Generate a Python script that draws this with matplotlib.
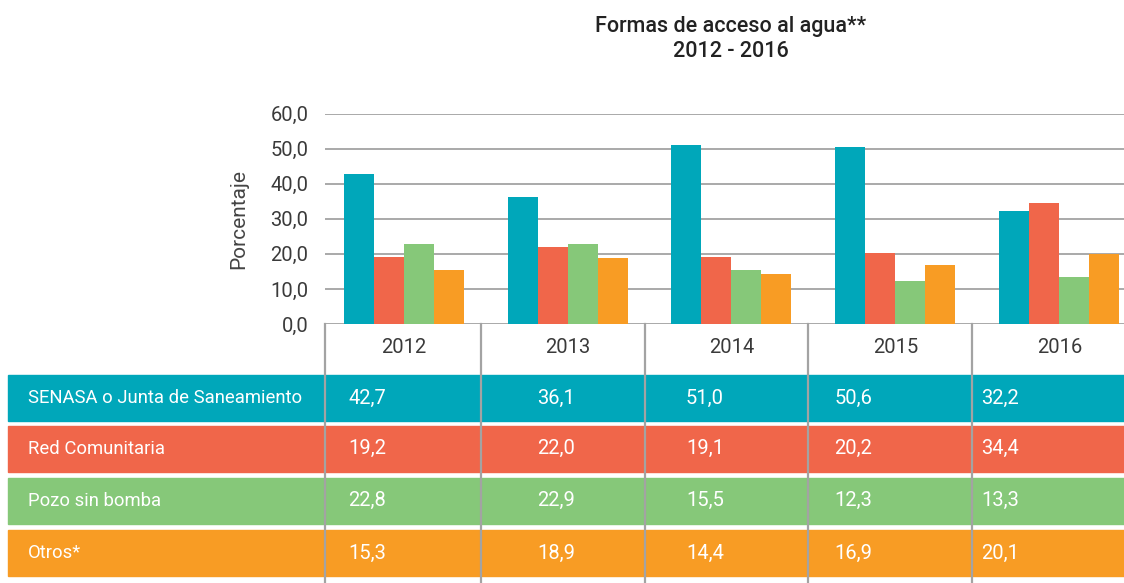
import matplotlib.pyplot as plt
from matplotlib.patches import Rectangle
from matplotlib.ticker import FuncFormatter

plt.rcParams['font.family'] = ['Roboto', 'DejaVu Sans']

# data
years = ["2012", "2013", "2014", "2015", "2016"]
series = ["SENASA o Junta de Saneamiento", "Red Comunitaria", "Pozo sin bomba", "Otros*"]
senasa = [42.7, 36.1, 51.0, 50.6, 32.2]
red_comunitaria = [19.2, 22.0, 19.1, 20.2, 34.4]
pozo = [22.8, 22.9, 15.5, 12.3, 13.3]
otros = [15.3, 18.9, 14.4, 16.9, 20.1]
values = [senasa, red_comunitaria, pozo, otros]
colors = ["#00A7BA", "#F0664A", "#86C879", "#F89C24"]

W, H = 1124, 583
fig = plt.figure(figsize=(W / 100, H / 100), dpi=100)

# main bar axes (pixel layout: x 325..1124, y 113.7..324)
ax = fig.add_axes([325 / W, (H - 324) / H, (1124 - 325) / W, (324 - 113.7) / H])
ax.patch.set_alpha(0)
bw = 0.183
for k, (vals, c) in enumerate(zip(values, colors)):
    xs = [i + (k - 1.5) * bw for i in range(len(years))]
    ax.bar(xs, vals, width=bw, color=c, zorder=3)

ax.set_xlim(-0.48, 4.395)
ax.set_ylim(0, 60)
ax.set_yticks(range(0, 61, 10))
ax.yaxis.set_major_formatter(FuncFormatter(lambda v, p: f"{v:.1f}".replace(".", ",")))
ax.grid(axis='y', color='#a3a3a3', linewidth=1.3, zorder=0)
for s in ax.spines.values():
    s.set_visible(False)
ax.set_xticks(range(len(years)))
ax.set_xticklabels(years)
ax.tick_params(axis='both', length=0, labelsize=14.5, labelcolor='#3a3a3a')
ax.tick_params(axis='y', pad=12)
ax.tick_params(axis='x', pad=10)
ax.set_ylabel("Porcentaje", fontsize=15, color='#444444')
ax.yaxis.set_label_coords(-0.096, 0.5)

fig.text(731 / W, 1 - 39 / H, "Formas de acceso al agua**\n2012 - 2016",
         ha='center', va='center', fontsize=15.5, color='#222222',
         linespacing=1.25, fontweight='medium')

# table overlay in pixel coordinates
tab = fig.add_axes([0, 0, 1, 1], zorder=2)
tab.set_xlim(0, W)
tab.set_ylim(H, 0)
tab.axis('off')
tab.patch.set_alpha(0)

row_top = [375, 425.5, 477.5, 530]
row_h = 46
col_text_x = [367, 556, 705, 853, 1000]
for r, (name, vals, c) in enumerate(zip(series, values, colors)):
    tab.add_patch(Rectangle((8, row_top[r]), W - 8, row_h, color=c, zorder=1))
    yc = row_top[r] + row_h / 2
    tab.text(28, yc, name, color='white', fontsize=13.3, va='center', ha='left',
             zorder=3)
    for j, v in enumerate(vals):
        tab.text(col_text_x[j], yc, f"{v:.1f}".replace(".", ","), color='white',
                 fontsize=14.5, va='center', ha='center', zorder=3)

# vertical dividers at category boundaries
div_x = [-0.48] + [i + 0.47 for i in range(4)]
for dx in div_x:
    px = ax.transData.transform((dx, 0))[0]
    tab.plot([px, px], [324, H], color='#a3a3a3', linewidth=1.6, zorder=4)

fig.savefig("out.png", dpi=100)
